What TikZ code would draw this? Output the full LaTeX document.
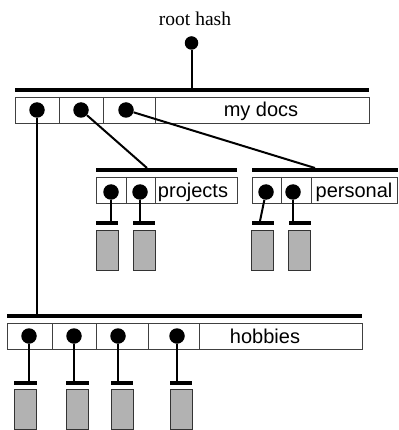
\documentclass[tikz,border=0pt]{standalone}
\usepackage{fontspec}
\setmainfont{Liberation Serif}
\setsansfont{Liberation Sans}
\begin{document}
\begin{tikzpicture}[x=1pt,y=-1pt,
  dirbox/.style={draw=black!75,line width=0.8pt,fill=white,rectangle,inner sep=0,minimum height=26pt},
  cellline/.style={draw=black!75,line width=0.8pt},
  hbar/.style={fill=black,rectangle,inner sep=0,minimum height=4pt},
  dot/.style={fill=black,circle,inner sep=0,minimum size=15.5pt},
  leaf/.style={draw=black!80,line width=0.8pt,fill=black!30,rectangle,inner sep=0,minimum width=22pt,minimum height=40pt},
  link/.style={line width=2pt},
  lbl/.style={font=\sffamily\fontsize{20}{24}\selectfont,anchor=base,inner sep=0},
]
\useasboundingbox (0,0) rectangle (398,430);

% root
\node[font=\fontsize{19.5}{22}\selectfont,anchor=base,inner sep=0] (roottxt) at (195,25.5) {root hash};
\node[dot,minimum size=13.5pt] (root) at (191.5,43) {};

% my docs
\node[hbar,minimum width=354pt] (mdbar) at (192,90) {};
\node[dirbox,minimum width=354pt] (md) at (192,110) {};
\draw[cellline] (59,97) -- (59,123) (103,97) -- (103,123) (155,97) -- (155,123);
\node[lbl] (mdtxt) at (261,117) {my docs};
\node[dot] (md1) at (37,110) {};
\node[dot] (md2) at (81,110) {};
\node[dot] (md3) at (126,110) {};

% projects
\node[hbar,minimum width=141pt] (prbar) at (166.5,170) {};
\node[dirbox,minimum width=141pt] (pr) at (166.5,190) {};
\draw[cellline] (126,177) -- (126,203) (155,177) -- (155,203);
\node[lbl] (prtxt) at (193,197) {projects};
\node[dot] (pr1) at (111,192) {};
\node[dot] (pr2) at (140,192) {};

% personal
\node[hbar,minimum width=146pt] (pebar) at (325,170) {};
\node[dirbox,minimum width=145pt] (pe) at (324.5,190) {};
\draw[cellline] (281,177) -- (281,203) (311,177) -- (311,203);
\node[lbl] (petxt) at (354,197) {personal};
\node[dot] (pe1) at (266,192) {};
\node[dot] (pe2) at (293,192) {};

% hobbies
\node[hbar,minimum width=355pt] (hobar) at (184.5,316) {};
\node[dirbox,minimum width=355pt] (ho) at (184.5,336) {};
\draw[cellline] (52,323) -- (52,349) (96,323) -- (96,349) (148,323) -- (148,349) (199,323) -- (199,349);
\node[lbl] (hotxt) at (265,343) {hobbies};
\node[dot] (ho1) at (29,336) {};
\node[dot] (ho2) at (74,336) {};
\node[dot] (ho3) at (118,336) {};
\node[dot] (ho4) at (177,336) {};

% leaves: bars and blocks
\node[hbar,minimum width=22pt] (lb1) at (107,223) {};
\node[hbar,minimum width=22pt] (lb2) at (144,223) {};
\node[hbar,minimum width=22pt] (lb3) at (263,223) {};
\node[hbar,minimum width=22pt] (lb4) at (300,223) {};
\node[hbar,minimum width=23pt] (lb5) at (25.5,383) {};
\node[hbar,minimum width=23pt] (lb6) at (77.5,383) {};
\node[hbar,minimum width=22pt] (lb7) at (122,383) {};
\node[hbar,minimum width=22pt] (lb8) at (181,383) {};
\node[leaf] (lf1) at (107,250) {};
\node[leaf] (lf2) at (144.5,250) {};
\node[leaf] (lf3) at (262.5,250) {};
\node[leaf] (lf4) at (299.5,250) {};
\node[leaf] (lf5) at (25.5,409) {};
\node[leaf] (lf6) at (77.5,409) {};
\node[leaf] (lf7) at (122,409) {};
\node[leaf] (lf8) at (181,409) {};

% connector end points on bars
\coordinate (c1) at (147,168);
\coordinate (c2) at (315,168);
\coordinate (c3) at (260,221);

% connectors
\draw[link] (root) -- (mdbar.north -| root);
\draw[link] (md1) -- (hobar.north -| md1);
\draw[link] (md2) -- (c1);
\draw[link] (md3) -- (c2);
\draw[link] (pr1) -- (lb1.north -| pr1);
\draw[link] (pr2) -- (lb2.north -| pr2);
\draw[link] (pe1) -- (c3);
\draw[link] (pe2) -- (lb4.north -| pe2);
\draw[link] (ho1) -- (lb5.north -| ho1);
\draw[link] (ho2) -- (lb6.north -| ho2);
\draw[link] (ho3) -- (lb7.north -| ho3);
\draw[link] (ho4) -- (lb8.north -| ho4);
\end{tikzpicture}
\end{document}
